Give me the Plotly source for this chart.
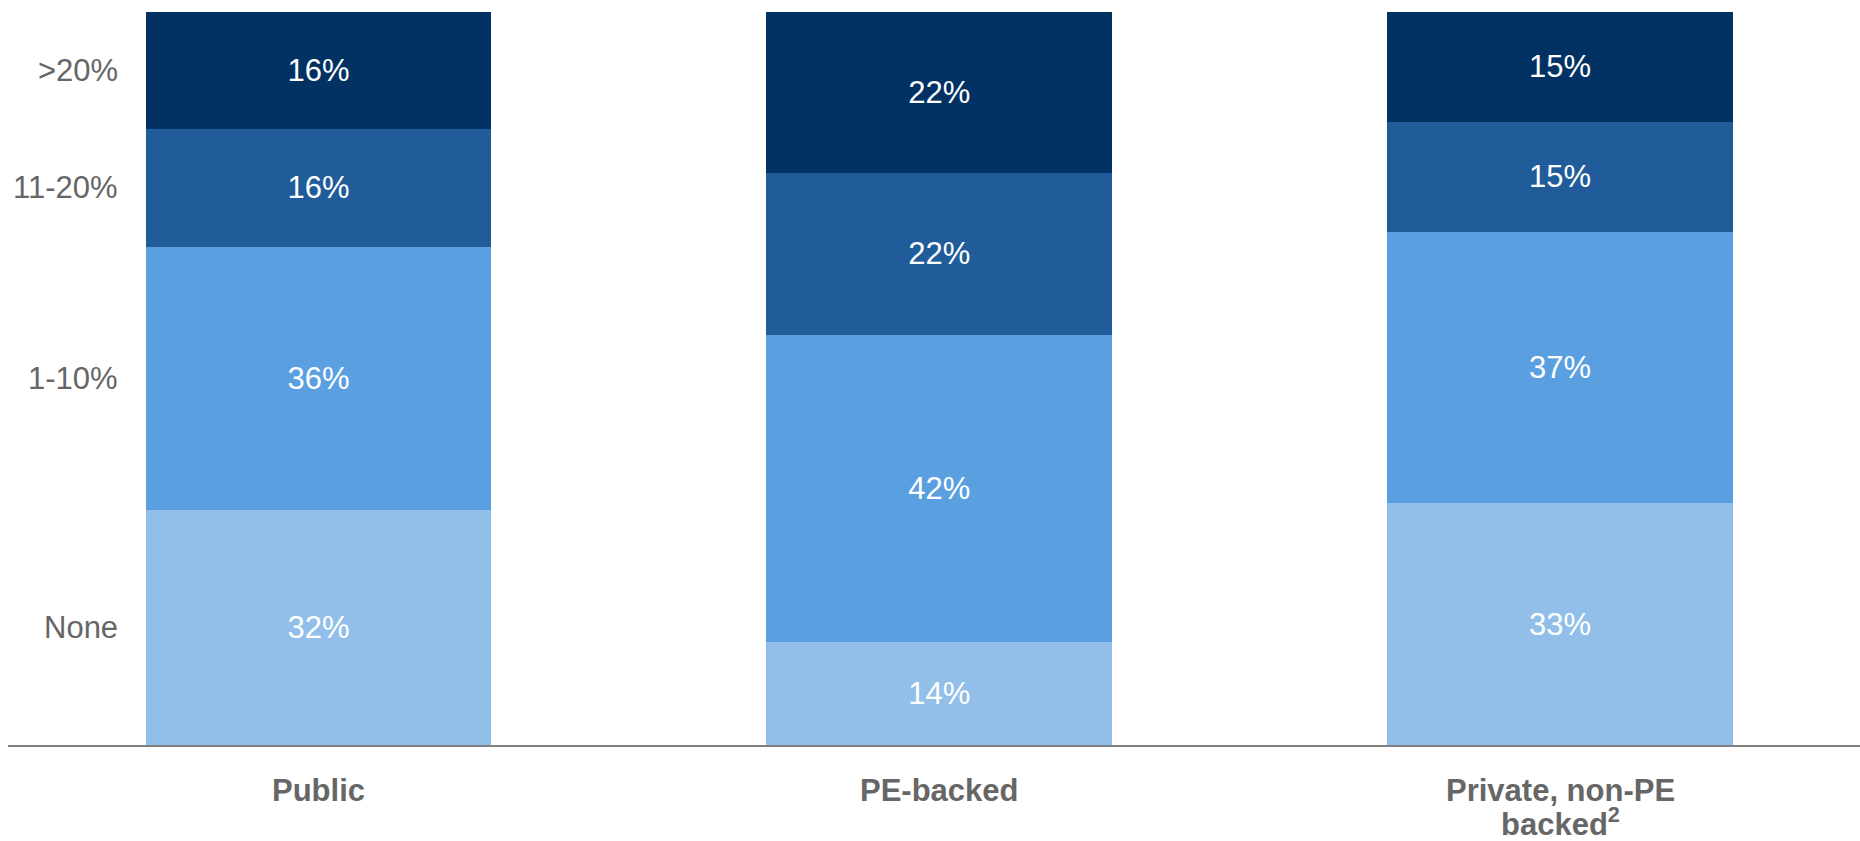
import plotly.graph_objects as go

# Company types on the x axis (lines of each label separated by <br>)
companies = ["Public", "PE-backed", "Private, non-PE<br>backed<sup>2</sup>"]

# Share of respondents per band, stacked bottom to top
bands = ["None", "1-10%", "11-20%", ">20%"]
none_share = [32, 14, 33]
low_share = [36, 42, 37]
mid_share = [16, 22, 15]
high_share = [16, 22, 15]

colors = ["#91BFEA", "#5A9FDF", "#1F5C99", "#023263"]
series = [none_share, low_share, mid_share, high_share]

FONT = "Liberation Sans, Arial, sans-serif"
GREY = "#666666"

fig = go.Figure()
x_idx = list(range(len(companies)))
for name, vals, col in zip(bands, series, colors):
    fig.add_trace(go.Bar(
        x=x_idx,
        y=vals,
        name=name,
        width=0.557,
        marker=dict(color=col, line=dict(width=0)),
        text=[f"{v}%" for v in vals],
        textposition="inside",
        insidetextanchor="middle",
        textangle=0,
        textfont=dict(family=FONT, size=31, color="white"),
        cliponaxis=False,
        hoverinfo="skip",
    ))

# Band labels to the left of the first bar, at each segment's midpoint
cum = 0
for name, vals in zip(bands, series):
    mid = cum + vals[0] / 2
    cum += vals[0]
    fig.add_annotation(
        x=0, y=mid, xref="x", yref="y",
        text=name, showarrow=False,
        xanchor="right", yanchor="middle", xshift=-198,
        font=dict(family=FONT, size=31, color=GREY),
    )

# Category labels under the axis, one annotation per line for tight spacing
for i, label in zip(x_idx, companies):
    for k, line in enumerate(label.split("<br>")):
        fig.add_annotation(
            x=i, y=0, xref="x", yref="y",
            text=f"<b>{line}</b>", showarrow=False,
            xanchor="center", yanchor="middle",
            yshift=-(45 + 32 * k),
            font=dict(family=FONT, size=31, color=GREY),
        )

fig.update_layout(
    barmode="stack",
    width=1860, height=841,
    margin=dict(l=8, r=0, t=12, b=96),
    paper_bgcolor="white",
    plot_bgcolor="white",
    showlegend=False,
    uniformtext=dict(minsize=31, mode="show"),
    xaxis=dict(
        range=[-0.5, 2.483],
        showticklabels=False,
        showline=True, linecolor="#808080", linewidth=2,
        showgrid=False, zeroline=False, ticks="",
        automargin=False,
    ),
    yaxis=dict(
        range=[0, 100],
        visible=False,
        showgrid=False, zeroline=False,
        automargin=False,
    ),
)

fig.write_html("out.html")
